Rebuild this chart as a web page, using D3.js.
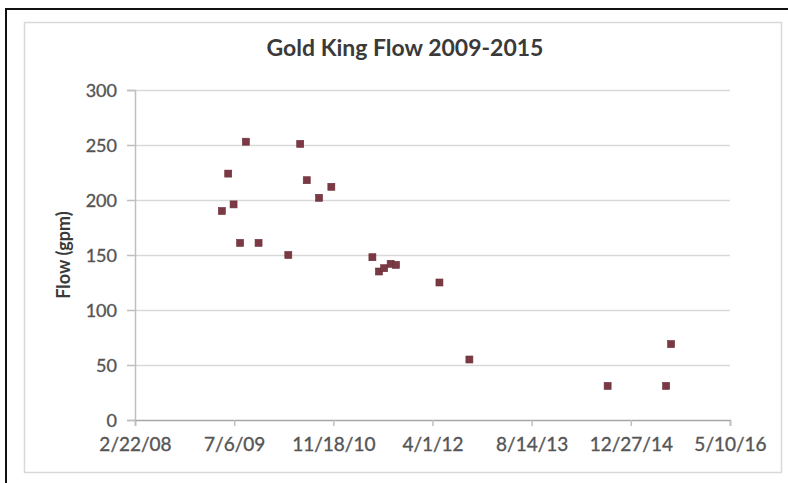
<!DOCTYPE html>
<html>
<head>
<meta charset="utf-8">
<script src="https://cdn.jsdelivr.net/npm/d3@7"></script>
<style>
  html, body { margin: 0; padding: 0; background: #fff; }
  svg { display: block; }
</style>
</head>
<body>
<svg id="chart" width="788" height="483"></svg>
<script>
// Gold King mine discharge measurements, 2009-2015
const sampleDates = [
  "2009-05-05", "2009-06-06", "2009-07-03", "2009-08-05", "2009-09-03",
  "2009-11-06", "2010-04-05", "2010-06-04", "2010-07-07", "2010-09-07",
  "2010-11-08", "2011-06-03", "2011-07-06", "2011-08-01", "2011-09-03",
  "2011-09-30", "2012-05-06", "2012-10-04", "2014-09-01", "2015-06-23",
  "2015-07-18"
];
const flowGpm = [
  190, 224, 196, 161, 253,
  161, 150, 251, 218, 202,
  212, 148, 135, 138, 142,
  141, 125, 55, 31, 31,
  69
];
const xTickDates = ["2008-02-22", "2009-07-06", "2010-11-18", "2012-04-01", "2013-08-14", "2014-12-27", "2016-05-10"];
const yTickValues = [0, 50, 100, 150, 200, 250, 300];
const chartTitle = "Gold King Flow 2009-2015";
const yAxisTitle = "Flow (gpm)";

const parse = d3.utcParse("%Y-%m-%d");
const points = sampleDates.map((d, i) => ({ date: parse(d), flow: flowGpm[i] }));
const xTicks = xTickDates.map(parse);

const svg = d3.select("#chart");
const plot = { left: 135, right: 730, top: 90, bottom: 420 };

// Outer frame: dark rules on top and left, light chart border inside
svg.append("rect").attr("x", 24.5).attr("y", 22.5).attr("width", 757).attr("height", 450)
  .attr("fill", "#fff").attr("stroke", "#d9d9d9").attr("stroke-width", 1.5);
svg.append("line").attr("x1", 6).attr("x2", 6).attr("y1", 8).attr("y2", 483)
  .attr("stroke", "#111").attr("stroke-width", 2);
svg.append("line").attr("x1", 5).attr("x2", 788).attr("y1", 9).attr("y2", 9)
  .attr("stroke", "#111").attr("stroke-width", 2);

const x = d3.scaleUtc().domain([xTicks[0], xTicks[xTicks.length - 1]]).range([plot.left, plot.right]);
const y = d3.scaleLinear().domain([0, 300]).range([plot.bottom, plot.top]);

const fmt = d => `${d.getUTCMonth() + 1}/${d.getUTCDate()}/${String(d.getUTCFullYear()).slice(2)}`;
const font = "Lato, 'Open Sans', sans-serif";

// Horizontal gridlines
svg.append("g").selectAll("line").data(yTickValues.filter(v => v > 0)).join("line")
  .attr("x1", plot.left).attr("x2", plot.right)
  .attr("y1", d => y(d) + 0.5).attr("y2", d => y(d) + 0.5)
  .attr("stroke", "#d9d9d9").attr("stroke-width", 1.5);

// Y axis
const yAxis = svg.append("g").attr("transform", `translate(${plot.left},0)`)
  .call(d3.axisLeft(y).tickValues(yTickValues).tickSize(8).tickPadding(10).tickFormat(d3.format("d")));
yAxis.select(".domain").attr("stroke", "#bfbfbf").attr("stroke-width", 1.5);
yAxis.selectAll(".tick line").attr("stroke", "#bfbfbf").attr("stroke-width", 1.5);
yAxis.selectAll("text").attr("fill", "#555").attr("stroke", "#555").attr("stroke-width", 0.35)
  .attr("font-family", font).attr("font-size", 18).attr("dy", "0.36em");

// X axis
const xAxis = svg.append("g").attr("transform", `translate(0,${plot.bottom})`)
  .call(d3.axisBottom(x).tickValues(xTicks).tickSize(6).tickPadding(12).tickFormat(fmt));
xAxis.select(".domain").attr("stroke", "#a6a6a6").attr("stroke-width", 1.5);
xAxis.selectAll(".tick line").attr("stroke", "#bfbfbf").attr("stroke-width", 1.5);
xAxis.selectAll("text").attr("fill", "#555").attr("stroke", "#555").attr("stroke-width", 0.35)
  .attr("font-family", font).attr("font-size", 19);
svg.selectAll(".domain").attr("fill", "none");

// Data markers
const m = 7;
svg.append("g").selectAll("rect").data(points).join("rect")
  .attr("x", d => x(d.date) - m / 2).attr("y", d => y(d.flow) - m / 2)
  .attr("width", m).attr("height", m)
  .attr("fill", "#7a3943").attr("stroke", "#6a2f38").attr("stroke-width", 0.6);

// Title
svg.append("text").attr("x", 405).attr("y", 56).attr("text-anchor", "middle")
  .attr("font-family", font).attr("font-weight", "bold").attr("font-size", 23)
  .attr("fill", "#3a3a3a").text(chartTitle);

// Y axis title
svg.append("text").attr("transform", "translate(70,255) rotate(-90)").attr("text-anchor", "middle")
  .attr("font-family", font).attr("font-weight", "bold").attr("font-size", 18)
  .attr("fill", "#3a3a3a").text(yAxisTitle);
</script>
</body>
</html>
